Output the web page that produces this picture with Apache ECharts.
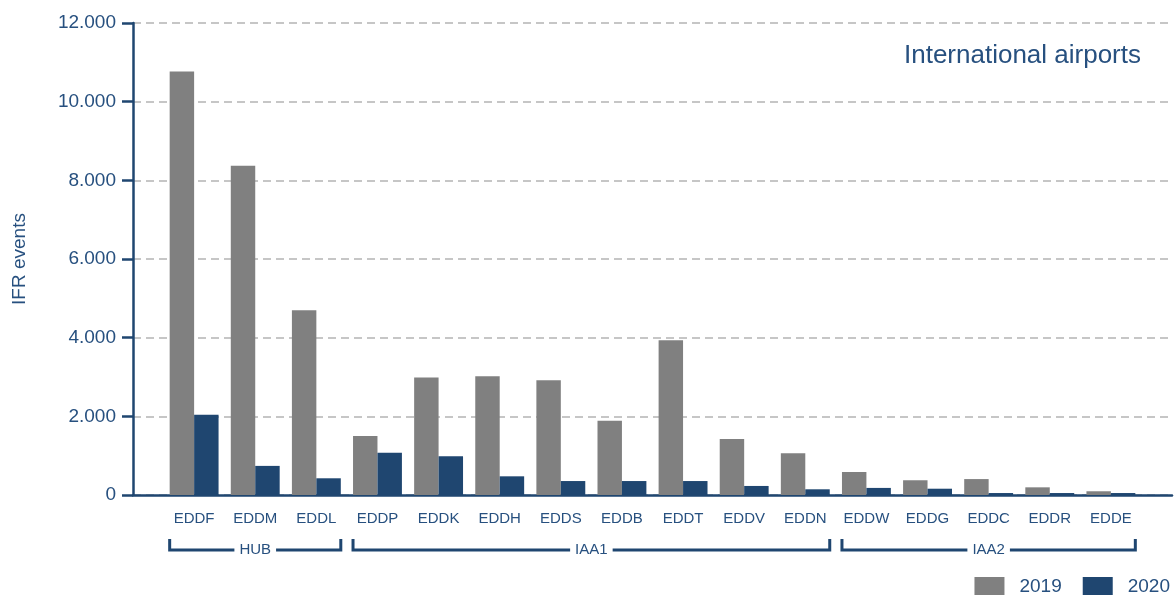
<!DOCTYPE html>
<html>
<head>
<meta charset="utf-8">
<script src="https://cdn.jsdelivr.net/npm/echarts@6/dist/echarts.min.js"></script>
<style>
html,body{margin:0;padding:0;background:#fff;}
#chart{width:1175px;height:595px;}
</style>
</head>
<body>
<div id="chart"></div>
<script>
const categories = ['EDDF','EDDM','EDDL','EDDP','EDDK','EDDH','EDDS','EDDB','EDDT','EDDV','EDDN','EDDW','EDDG','EDDC','EDDR','EDDE'];
const values2019 = [10770, 8370, 4700, 1500, 2990, 3020, 2920, 1890, 3935, 1425, 1060, 585, 375, 405, 195, 95];
const values2020 = [2040, 740, 425, 1075, 985, 475, 355, 355, 355, 230, 145, 180, 160, 50, 50, 50];
const groups = [
  {name: 'HUB', first: 'EDDF', last: 'EDDL'},
  {name: 'IAA1', first: 'EDDP', last: 'EDDN'},
  {name: 'IAA2', first: 'EDDW', last: 'EDDE'}
];
const yTicks = [0, 2000, 4000, 6000, 8000, 10000, 12000];
const titleText = 'International airports';
const yName = 'IFR events';
const seriesNames = ['2019', '2020'];

const NAVY = '#1f4670';
const TEXT = '#27507f';
const GRAY = '#808080';
const FONT = '"Liberation Sans", Arial, sans-serif';

const xCats = [''].concat(categories, ['']);
const pad = arr => [null].concat(arr, [null]);

const chart = echarts.init(document.getElementById('chart'));
const option = {
  animation: false,
  backgroundColor: '#fff',
  title: {
    text: titleText,
    right: 29,
    top: 38,
    textStyle: {fontFamily: FONT, fontSize: 26, fontWeight: 'normal', color: TEXT}
  },
  legend: {
    data: seriesNames,
    right: 5,
    top: 577,
    padding: 0,
    itemWidth: 30,
    itemHeight: 20,
    itemGap: 21,
    icon: 'rect',
    textStyle: {fontFamily: FONT, fontSize: 19, color: TEXT, padding: [0, 0, 0, 10]}
  },
  grid: {left: 133, right: -2, top: 23, bottom: 100, containLabel: false},
  xAxis: {
    type: 'category',
    data: xCats,
    boundaryGap: false,
    axisLine: {show: true, lineStyle: {color: NAVY, width: 2.5}},
    axisTick: {show: false},
    splitLine: {show: false},
    axisLabel: {fontFamily: FONT, fontSize: 15, color: TEXT, margin: 16, interval: 0}
  },
  yAxis: {
    type: 'value',
    min: yTicks[0],
    max: yTicks[yTicks.length - 1],
    interval: yTicks[1] - yTicks[0],
    name: yName,
    nameLocation: 'middle',
    nameGap: 104,
    nameTextStyle: {fontFamily: FONT, fontSize: 19, color: TEXT},
    axisLine: {show: true, lineStyle: {color: NAVY, width: 2.5}},
    axisTick: {show: true, length: 11, lineStyle: {color: NAVY, width: 2.5}},
    splitLine: {show: true, lineStyle: {color: '#c6c6c6', width: 2, type: [8, 5]}},
    axisLabel: {
      fontFamily: FONT, fontSize: 19, color: TEXT, margin: 17,
      formatter: v => String(v).replace(/\B(?=(\d{3})+(?!\d))/g, '.')
    }
  },
  series: [
    {name: seriesNames[0], type: 'bar', data: pad(values2019), itemStyle: {color: GRAY}, barGap: '0%', barCategoryGap: '20%'},
    {name: seriesNames[1], type: 'bar', data: pad(values2020), itemStyle: {color: NAVY}, barGap: '0%', barCategoryGap: '20%'}
  ]
};
chart.setOption(option);

// group brackets computed from the axis scale
const step = chart.convertToPixel({xAxisIndex: 0}, categories[1]) - chart.convertToPixel({xAxisIndex: 0}, categories[0]);
const baseY = chart.convertToPixel({yAxisIndex: 0}, 0);
const yLine = baseY + 55;
const yTop = yLine - 11;
const elements = [];
groups.forEach(g => {
  const x0 = chart.convertToPixel({xAxisIndex: 0}, g.first) - step * 0.4;
  const x1 = chart.convertToPixel({xAxisIndex: 0}, g.last) + step * 0.4;
  elements.push({
    type: 'polyline',
    shape: {points: [[x0, yTop], [x0, yLine], [x1, yLine], [x1, yTop]]},
    style: {stroke: NAVY, lineWidth: 3, fill: null},
    z: 10
  });
  elements.push({
    type: 'text',
    x: (x0 + x1) / 2,
    y: yLine,
    style: {
      text: g.name, fontFamily: FONT, fontSize: 15, fill: TEXT,
      align: 'center', verticalAlign: 'middle',
      backgroundColor: '#fff', padding: [2, 5]
    },
    z: 11
  });
});
chart.setOption({graphic: {elements: elements}});
</script>
</body>
</html>
